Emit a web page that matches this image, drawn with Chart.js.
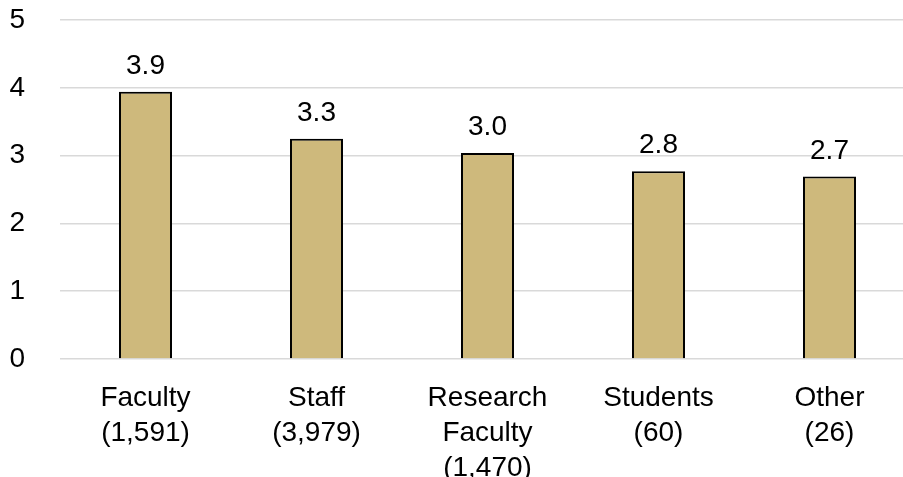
<!DOCTYPE html>
<html>
<head>
<meta charset="utf-8">
<script src="https://cdn.jsdelivr.net/npm/chart.js@4/dist/chart.umd.min.js"></script>
<style>
  html, body { margin: 0; padding: 0; background: #fff; overflow: hidden; }
  #wrap { width: 903px; height: 477px; overflow: hidden; }
</style>
</head>
<body>
<div id="wrap">
  <canvas id="myChart" width="915" height="482"></canvas>
</div>
<script>
var categories = [
    ['Faculty', '(1,591)'],
    ['Staff', '(3,979)'],
    ['Research', 'Faculty', '(1,470)'],
    ['Students', '(60)'],
    ['Other', '(26)']
];
var values = [3.94, 3.25, 3.04, 2.77, 2.69];
var valueLabels = ['3.9', '3.3', '3.0', '2.8', '2.7'];
var yTicks = [0, 1, 2, 3, 4, 5];

var fontFamily = '"Liberation Sans", Arial, Helvetica, sans-serif';
var fontSize = 28;

// draws the number above each bar
var barLabels = {
    id: 'barLabels',
    afterDatasetsDraw: function (chart) {
        var ctx = chart.ctx;
        var meta = chart.getDatasetMeta(0);
        ctx.save();
        ctx.font = fontSize + 'px ' + fontFamily;
        ctx.fillStyle = '#000';
        ctx.textAlign = 'center';
        ctx.textBaseline = 'alphabetic';
        meta.data.forEach(function (bar, i) {
            ctx.fillText(valueLabels[i], bar.x, bar.y - 18);
        });
        ctx.restore();
    }
};

// fixed axis sizes, no automatic label padding
function noPadding(scale) {
    scale.paddingTop = 0;
    scale.paddingBottom = 0;
    scale.paddingLeft = 0;
    scale.paddingRight = 0;
}

var ctx = document.getElementById('myChart').getContext('2d');
var myChart = new Chart(ctx, {
    type: 'bar',
    data: {
        labels: categories,
        datasets: [{
            data: values,
            backgroundColor: '#CEB97C',
            borderColor: '#000',
            borderWidth: 2,
            barPercentage: 0.31,
            categoryPercentage: 1
        }]
    },
    options: {
        responsive: false,
        animation: false,
        layout: { padding: { left: 0, top: 20, right: 0, bottom: 0 } },
        plugins: {
            legend: { display: false },
            tooltip: { enabled: false }
        },
        scales: {
            x: {
                grid: { display: false },
                border: { display: false },
                afterFit: function (scale) {
                    noPadding(scale);
                    scale.height = 123;
                },
                ticks: {
                    color: '#000',
                    padding: 14,
                    maxRotation: 0,
                    autoSkip: false,
                    font: { family: fontFamily, size: fontSize, lineHeight: 1.25 }
                }
            },
            y: {
                min: yTicks[0],
                max: yTicks[yTicks.length - 1],
                afterBuildTicks: function (axis) {
                    axis.ticks = yTicks.map(function (v) { return { value: v }; });
                },
                afterFit: function (scale) {
                    noPadding(scale);
                    scale.width = 60;
                },
                grid: { color: '#d9d9d9', lineWidth: 1.5, drawTicks: false },
                border: { display: false },
                ticks: {
                    color: '#000',
                    padding: 35,
                    font: { family: fontFamily, size: fontSize }
                }
            }
        }
    },
    plugins: [barLabels]
});
</script>
</body>
</html>
